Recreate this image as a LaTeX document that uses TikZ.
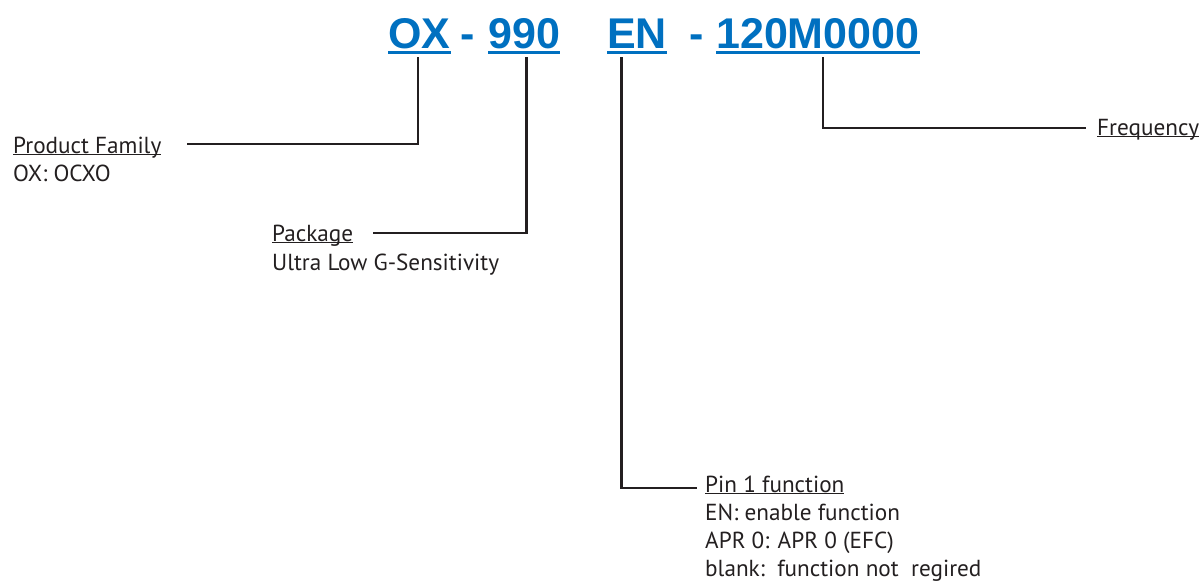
\documentclass[tikz,border=0pt]{standalone}
\usepackage{fontspec}
\setmainfont{PT Sans}
\newfontfamily\titlefont{Liberation Sans}
\definecolor{pnblue}{RGB}{0,112,192}
\definecolor{ink}{RGB}{35,31,32}
\newcommand\myul[1]{\setbox0\hbox{#1}\rlap{\rule[-2.2pt]{\wd0}{1.3pt}}\box0}
\tikzset{
  word/.style={inner sep=0pt, anchor=base west, text=pnblue, font=\titlefont\bfseries\fontsize{43}{43}\selectfont},
  dashtxt/.style={inner sep=0pt, anchor=base west, text=pnblue, font=\titlefont\bfseries\fontsize{43}{43}\selectfont},
  lab/.style={inner sep=0pt, anchor=base west, text=ink, align=left, font=\fontsize{23.2}{28}\selectfont},
  conn/.style={draw=ink, line width=2.2pt},
  uline/.style={draw=pnblue, line width=3pt}
}
\begin{document}
\begin{tikzpicture}[x=1pt,y=-1pt]
\useasboundingbox (0,0) rectangle (1204,581);
% title
\node[word] (ox) at (388,48) {OX};
\node[dashtxt] (d1) at (460,48) {-};
\node[word] (n990) at (488,48) {990};
\node[word] (en) at (607,48) {EN};
\node[dashtxt] (d2) at (689,48) {-};
\node[word] (fr) at (716,48) {120M0000};
\foreach \w in {ox,n990,en,fr}{
  \draw[uline] ([yshift=-4.5pt]\w.base west) -- ([yshift=-4.5pt]\w.base east);
}
% labels
\node[lab] (pf) at (13,153) {\myul{Product Family}};
\node[lab] (pfd) at (13,181) {OX: OCXO};
\node[lab] (pk) at (272,241) {\myul{Package}};
\node[lab] (pkd) at (272,270) {Ultra Low G-Sensitivity};
\node[lab] (pin) at (705,492) {\myul{Pin 1 function}};
\node[lab] (pind) at (705,576) {EN: enable function\\APR 0: APR 0 (EFC)\\blank:\ \ function not\ \ regired};
\node[lab] (fq) at (1097,135) {\myul{Frequency}};
% connectors
\coordinate (pfe) at (187,144);
\coordinate (pke) at (373,233);
\coordinate (pine) at (697,488);
\coordinate (fqe) at (1086,128);
\draw[conn] ([xshift=30pt,yshift=-9pt]ox.base west) |- (pfe);
\draw[conn] ([xshift=38.5pt,yshift=-9pt]n990.base west) |- (pke);
\draw[conn] ([xshift=14.5pt,yshift=-9pt]en.base west) |- (pine);
\draw[conn] ([xshift=107pt,yshift=-9pt]fr.base west) |- (fqe);
\end{tikzpicture}
\end{document}
